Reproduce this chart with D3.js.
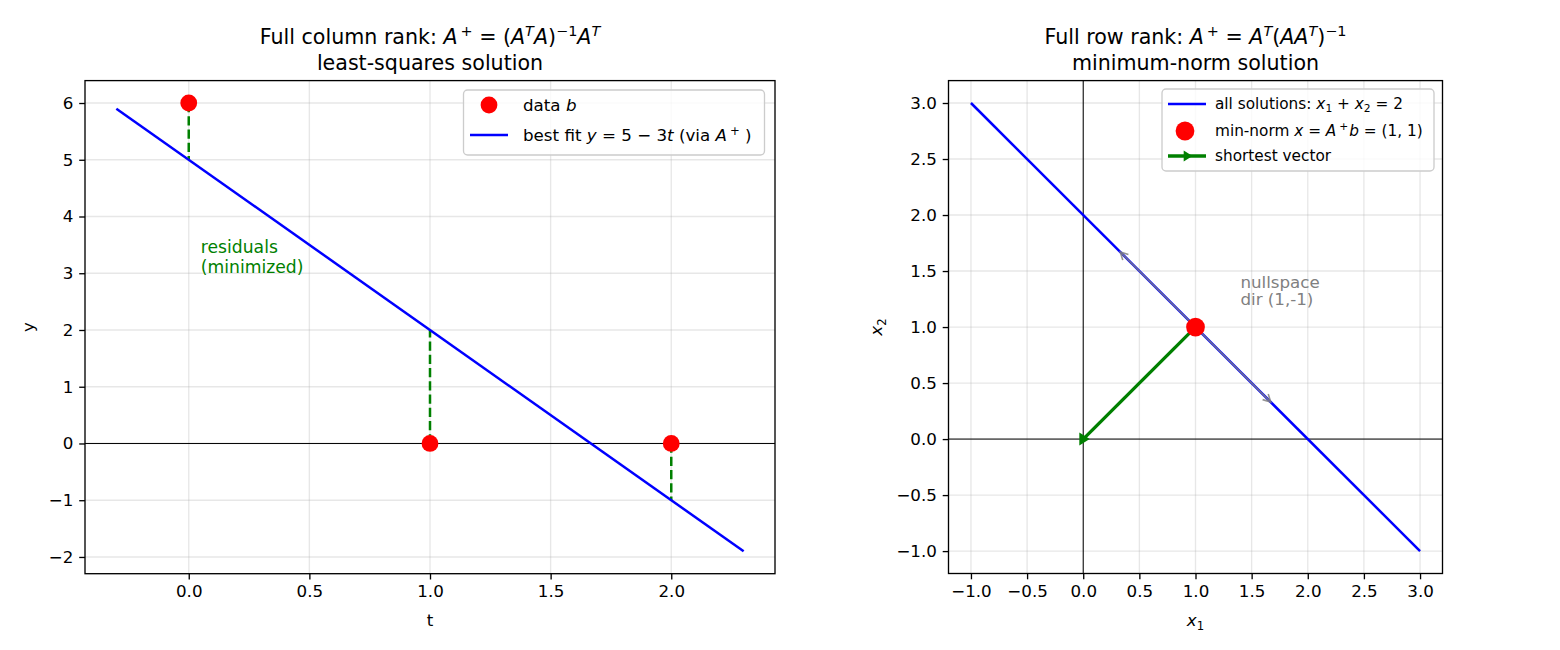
<!DOCTYPE html>
<html>
<head>
<meta charset="utf-8">
<script src="https://cdn.jsdelivr.net/npm/d3@7"></script>
<style>
  html, body { margin: 0; padding: 0; background: #fff; }
  svg { display: block; font-family: "DejaVu Sans", sans-serif; }
</style>
</head>
<body>
<svg id="chart" width="1560" height="650"></svg>
<script>
// ---------- data ----------
const tValues = [0, 1, 2];
const bValues = [6, 0, 0];
const fitAtT = [5, 2, -1];
const fitLineT = [-0.3, 2.3];
const fitLineY = [5.9, -1.9];
const leftXTicks = [0, 0.5, 1.0, 1.5, 2.0];
const leftYTicks = [-2, -1, 0, 1, 2, 3, 4, 5, 6];

const solX = [-1, 3];
const solY = [3, -1];
const minNormX = [1];
const minNormY = [1];
const shortestX = [1, 0];
const shortestY = [1, 0];
const nullEndX = [0.33, 1.67];
const nullEndY = [1.67, 0.33];
const rightTicks = [-1.0, -0.5, 0.0, 0.5, 1.0, 1.5, 2.0, 2.5, 3.0];

const leftXDomain = [-0.43, 2.43];
const leftYDomain = [-2.295, 6.395];
const rightDomain = [-1.2, 3.2];

// ---------- setup ----------
const svg = d3.select("#chart");
const FS = 16.7;      // 10pt @120dpi
const TITLE_FS = 20.6;
const BLUE = "#0000ff", RED = "#ff0000", GREEN = "#008000";

function rich(sel, parts, fs) {
  let off = 0;
  parts.forEach(p => {
    const ts = sel.append("tspan").text(p.t);
    let target = 0;
    if (p.sup) target = -0.38 * fs;
    if (p.sub) target = 0.22 * fs;
    if (p.sup || p.sub) ts.attr("font-size", fs * 0.7);
    if (p.i) ts.attr("font-style", "italic");
    if (p.dx) ts.attr("dx", p.dx);
    const dy = target - off;
    if (dy !== 0) ts.attr("dy", dy);
    off = target;
  });
  return sel;
}

function panel(cfg) {
  const g = svg.append("g");
  const x = d3.scaleLinear().domain(cfg.xd).range([cfg.L, cfg.R]);
  const y = d3.scaleLinear().domain(cfg.yd).range([cfg.B, cfg.T]);
  // grid
  g.append("g").selectAll("line").data(cfg.xt).join("line")
    .attr("x1", d => x(d)).attr("x2", d => x(d)).attr("y1", cfg.T).attr("y2", cfg.B)
    .attr("stroke", "#b0b0b0").attr("stroke-opacity", 0.3).attr("stroke-width", 1.33);
  g.append("g").selectAll("line").data(cfg.yt).join("line")
    .attr("y1", d => y(d)).attr("y2", d => y(d)).attr("x1", cfg.L).attr("x2", cfg.R)
    .attr("stroke", "#b0b0b0").attr("stroke-opacity", 0.3).attr("stroke-width", 1.33);
  // axes
  const xa = g.append("g").attr("transform", `translate(0,${cfg.B})`)
    .call(d3.axisBottom(x).tickValues(cfg.xt).tickFormat(cfg.xf).tickSize(5.8).tickPadding(5.8));
  const ya = g.append("g").attr("transform", `translate(${cfg.L},0)`)
    .call(d3.axisLeft(y).tickValues(cfg.yt).tickFormat(cfg.yf).tickSize(5.8).tickPadding(5.8));
  [xa, ya].forEach(a => {
    a.select(".domain").remove();
    a.selectAll(".tick line").attr("stroke", "#000").attr("stroke-width", 1.33);
    a.selectAll(".tick text").attr("font-size", FS).attr("fill", "#000")
      .attr("font-family", "DejaVu Sans");
  });
  const plot = g.append("g");
  // spines
  g.append("rect").attr("x", cfg.L).attr("y", cfg.T).attr("width", cfg.R - cfg.L).attr("height", cfg.B - cfg.T)
    .attr("fill", "none").attr("stroke", "#000").attr("stroke-width", 1.33);
  const cx = (cfg.L + cfg.R) / 2;
  rich(g.append("text").attr("x", cx).attr("y", 44).attr("text-anchor", "middle").attr("font-size", TITLE_FS), cfg.title1, TITLE_FS);
  g.append("text").attr("x", cx).attr("y", 70).attr("text-anchor", "middle").attr("font-size", TITLE_FS).text(cfg.title2);
  rich(g.append("text").attr("x", cx).attr("y", 626).attr("text-anchor", "middle").attr("font-size", FS), cfg.xlabel, FS);
  rich(g.append("text").attr("transform", `translate(${cfg.ylx},${(cfg.T + cfg.B) / 2}) rotate(-90)`)
    .attr("text-anchor", "middle").attr("font-size", FS), cfg.ylabel, FS);
  return { g: plot, x, y, top: g };
}

// ---------- left panel ----------
const Lp = panel({
  L: 85, R: 775, T: 80.6, B: 573.7,
  xd: leftXDomain, yd: leftYDomain, xt: leftXTicks, yt: leftYTicks,
  xf: d3.format(".1f"), yf: d3.format("d"),
  title1: [{t: "Full column rank: "}, {t: "A", i: 1}, {t: "+", sup: 1, dx: 3}, {t: " = ("}, {t: "A", i: 1}, {t: "T", sup: 1, i: 1},
           {t: "A", i: 1}, {t: ")"}, {t: "−1", sup: 1}, {t: "A", i: 1}, {t: "T", sup: 1, i: 1}],
  title2: "least-squares solution",
  xlabel: [{t: "t"}], ylabel: [{t: "y"}], ylx: 34
});
{
  const {g, x, y} = Lp;
  g.append("line").attr("x1", 85).attr("x2", 775).attr("y1", y(0)).attr("y2", y(0))
    .attr("stroke", "#000").attr("stroke-width", 1);
  g.selectAll(".res").data(tValues).join("line").attr("class", "res")
    .attr("x1", d => x(d)).attr("x2", d => x(d))
    .attr("y1", (d, i) => y(bValues[i])).attr("y2", (d, i) => y(fitAtT[i]))
    .attr("stroke", GREEN).attr("stroke-width", 2.5).attr("stroke-dasharray", "9.25,4");
  g.append("path").datum(d3.zip(fitLineT, fitLineY))
    .attr("d", d3.line().x(d => x(d[0])).y(d => y(d[1])))
    .attr("fill", "none").attr("stroke", BLUE).attr("stroke-width", 2.5);
  g.selectAll(".pt").data(tValues).join("circle").attr("class", "pt")
    .attr("cx", d => x(d)).attr("cy", (d, i) => y(bValues[i])).attr("r", 8.4).attr("fill", RED);
  const rt = g.append("text").attr("fill", GREEN).attr("font-size", 17.2);
  rt.append("tspan").attr("x", x(0.05)).attr("y", y(3.0) - 20).text("residuals");
  rt.append("tspan").attr("x", x(0.05)).attr("y", y(3.0)).text("(minimized)");
  // legend
  const lg = Lp.top.append("g");
  lg.append("rect").attr("x", 463.5).attr("y", 90).attr("width", 301).attr("height", 65).attr("rx", 4)
    .attr("fill", "#fff").attr("fill-opacity", 0.8).attr("stroke", "#cccccc").attr("stroke-width", 1.33);
  lg.append("circle").attr("cx", 489).attr("cy", 105).attr("r", 8.4).attr("fill", RED);
  lg.append("line").attr("x1", 470).attr("x2", 508).attr("y1", 135).attr("y2", 135).attr("stroke", BLUE).attr("stroke-width", 2.5);
  rich(lg.append("text").attr("x", 523).attr("y", 111).attr("font-size", FS), [{t: "data "}, {t: "b", i: 1}], FS);
  rich(lg.append("text").attr("x", 523).attr("y", 141).attr("font-size", FS),
    [{t: "best fit "}, {t: "y", i: 1}, {t: " = 5 − 3"}, {t: "t", i: 1}, {t: " (via "}, {t: "A", i: 1}, {t: "+", sup: 1, dx: 3}, {t: " )"}], FS);
}

// ---------- right panel ----------
const Rp = panel({
  L: 948.5, R: 1442.5, T: 80.6, B: 573.5,
  xd: rightDomain, yd: rightDomain, xt: rightTicks, yt: rightTicks,
  xf: d3.format(".1f"), yf: d3.format(".1f"),
  title1: [{t: "Full row rank: "}, {t: "A", i: 1}, {t: "+", sup: 1, dx: 3}, {t: " = "}, {t: "A", i: 1}, {t: "T", sup: 1, i: 1},
           {t: "("}, {t: "AA", i: 1}, {t: "T", sup: 1, i: 1}, {t: ")"}, {t: "−1", sup: 1}],
  title2: "minimum-norm solution",
  xlabel: [{t: "x", i: 1}, {t: "1", sub: 1}], ylabel: [{t: "x", i: 1}, {t: "2", sub: 1}], ylx: 882
});
{
  const {g, x, y} = Rp;
  g.append("line").attr("x1", 948.5).attr("x2", 1442.5).attr("y1", y(0)).attr("y2", y(0))
    .attr("stroke", "#000").attr("stroke-width", 1);
  g.append("line").attr("y1", 80.6).attr("y2", 573.5).attr("x1", x(0)).attr("x2", x(0))
    .attr("stroke", "#000").attr("stroke-width", 1);
  g.append("path").datum(d3.zip(solX, solY))
    .attr("d", d3.line().x(d => x(d[0])).y(d => y(d[1])))
    .attr("fill", "none").attr("stroke", BLUE).attr("stroke-width", 2.5);
  // nullspace arrows
  nullEndX.forEach((ex, i) => {
    const x0 = x(minNormX[0]), y0 = y(minNormY[0]), x1 = x(ex), y1 = y(nullEndY[i]);
    const ang = Math.atan2(y1 - y0, x1 - x0);
    const hl = 7.5, hw = 4;
    const p = d3.path();
    p.moveTo(x0, y0); p.lineTo(x1, y1);
    p.moveTo(x1 - hl * Math.cos(ang) + hw * Math.sin(ang), y1 - hl * Math.sin(ang) - hw * Math.cos(ang));
    p.lineTo(x1, y1);
    p.lineTo(x1 - hl * Math.cos(ang) - hw * Math.sin(ang), y1 - hl * Math.sin(ang) + hw * Math.cos(ang));
    g.append("path").attr("d", p.toString()).attr("fill", "none").attr("stroke", "#808080")
      .attr("stroke-opacity", 0.85).attr("stroke-width", 1.6);
  });
  const nt = g.append("text").attr("fill", "#808080").attr("font-size", FS);
  nt.append("tspan").attr("x", x(1.4)).attr("y", y(1.2) - 17).text("nullspace");
  nt.append("tspan").attr("x", x(1.4)).attr("y", y(1.2)).text("dir (1,-1)");
  // shortest vector
  g.append("path").datum(d3.zip(shortestX, shortestY))
    .attr("d", d3.line().x(d => x(d[0])).y(d => y(d[1])))
    .attr("fill", "none").attr("stroke", GREEN).attr("stroke-width", 3.3);
  const tri = (cx, cy, s) => `M${cx - s * 0.6},${cy - s}L${cx + s},${cy}L${cx - s * 0.6},${cy + s}Z`;
  g.append("path").attr("d", tri(x(shortestX[1]), y(shortestY[1]), 6.5)).attr("fill", GREEN);
  g.selectAll(".mn").data(minNormX).join("circle").attr("class", "mn")
    .attr("cx", d => x(d)).attr("cy", (d, i) => y(minNormY[i])).attr("r", 9.4).attr("fill", RED);
  // legend
  const LFS = 15.3;
  const lg = Rp.top.append("g");
  lg.append("rect").attr("x", 1162).attr("y", 89).attr("width", 272).attr("height", 82).attr("rx", 4)
    .attr("fill", "#fff").attr("fill-opacity", 0.8).attr("stroke", "#cccccc").attr("stroke-width", 1.33);
  lg.append("line").attr("x1", 1168).attr("x2", 1206).attr("y1", 104).attr("y2", 104).attr("stroke", BLUE).attr("stroke-width", 2.5);
  lg.append("circle").attr("cx", 1185).attr("cy", 131).attr("r", 9.4).attr("fill", RED);
  lg.append("line").attr("x1", 1168).attr("x2", 1206).attr("y1", 156).attr("y2", 156).attr("stroke", GREEN).attr("stroke-width", 3.3);
  lg.append("path").attr("d", tri(1187, 156, 5.5)).attr("fill", GREEN);
  rich(lg.append("text").attr("x", 1215).attr("y", 109).attr("font-size", LFS),
    [{t: "all solutions: "}, {t: "x", i: 1}, {t: "1", sub: 1}, {t: " + "}, {t: "x", i: 1}, {t: "2", sub: 1}, {t: " = 2"}], LFS);
  rich(lg.append("text").attr("x", 1215).attr("y", 136).attr("font-size", LFS),
    [{t: "min-norm "}, {t: "x", i: 1}, {t: " = "}, {t: "A", i: 1}, {t: "+", sup: 1, dx: 3}, {t: "b", i: 1, dx: 1}, {t: " = (1, 1)"}], LFS);
  lg.append("text").attr("x", 1215).attr("y", 161).attr("font-size", LFS).text("shortest vector");
}
</script>
</body>
</html>
